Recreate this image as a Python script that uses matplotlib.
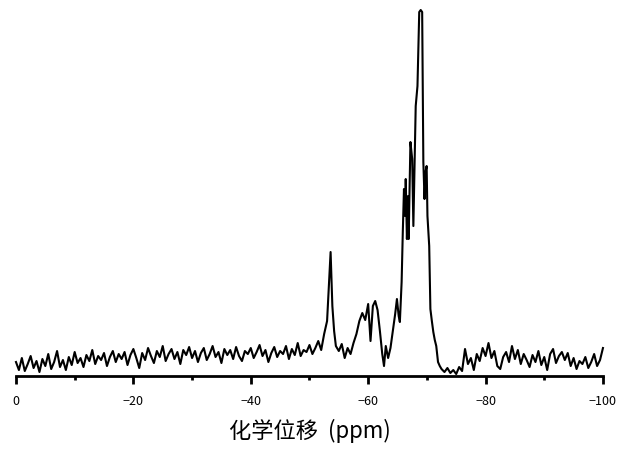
import numpy as np
import matplotlib
matplotlib.use("Agg")
import matplotlib.pyplot as plt

plt.rcParams['font.family'] = ['Noto Sans CJK SC', 'DejaVu Sans']

# baseline noise, 0 to -52.5 ppm (step 0.5)
shift_left = np.arange(0, -53.0, -0.5)
signal_left = [
    14, 6, 18, 5, 12, 20, 8, 15, 4, 17, 10, 22, 7, 14, 25, 9, 16, 6, 19, 11,
    24, 13, 18, 9, 21, 15, 26, 12, 20, 16, 23, 10, 19, 25, 14, 22, 17, 24, 11, 21,
    27, 18, 8, 23, 16, 28, 20, 13, 25, 19, 30, 15, 22, 27, 17, 24, 12, 26, 21, 29,
    18, 25, 14, 23, 28, 16, 22, 30, 19, 24, 13, 27, 21, 26, 17, 29, 20, 15, 25, 22,
    28, 18, 24, 31, 20, 26, 14, 23, 29, 19, 25, 22, 30, 17, 27, 21, 33, 20, 26, 24,
    31, 22, 28, 35, 26, 42,
]

# resonance region
shift_peaks = [
    -53.0, -53.3, -53.6, -53.9, -54.2, -54.5, -55.0, -55.5, -56.0, -56.5,
    -57.0, -57.5, -58.0, -58.5, -59.0, -59.5, -60.0, -60.4, -60.8, -61.2,
    -61.6, -62.0, -62.4, -62.7, -63.0, -63.4, -63.8, -64.2, -64.6, -64.9,
    -65.2, -65.4, -65.7, -65.9, -66.1, -66.3, -66.4, -66.6, -66.8, -66.9,
    -67.2, -67.5, -67.7, -67.9, -68.1, -68.4, -68.7, -68.95, -69.2, -69.4,
    -69.6, -69.8, -69.96, -70.1, -70.4, -70.6, -70.85, -71.1, -71.35, -71.6,
    -71.9, -72.2, -72.5,
]
signal_peaks = [
    55, 90, 124, 70, 45, 30, 25, 32, 18, 28,
    22, 33, 42, 55, 63, 56, 72, 35, 70, 75,
    66, 45, 22, 10, 30, 18, 28, 45, 62, 77,
    60, 54, 94, 144, 187, 160, 197, 137, 180, 137,
    234, 217, 150, 210, 270, 290, 364, 366, 364, 214,
    177, 205, 210, 160, 130, 67, 55, 44, 36, 30,
    14, 10, 7,
]

# baseline noise, -73 to -100 ppm
shift_right = np.arange(-73.0, -100.01, -0.5)
signal_right = [
    4, 8, 3, 6, 2, 9, 5, 27, 12, 18,
    6, 22, 15, 28, 20, 33, 18, 25, 10, 7,
    19, 24, 14, 30, 17, 26, 12, 22, 16, 9,
    21, 14, 25, 11, 19, 6, 22, 27, 13, 20,
    24, 16, 23, 10, 18, 7, 15, 12, 19, 8,
    14, 22, 10, 16, 28,
]

shift = np.concatenate([shift_left, shift_peaks, shift_right])
signal = np.concatenate([signal_left, signal_peaks, signal_right])

fig = plt.figure(figsize=(6.29, 4.56), dpi=100)
ax = fig.add_axes([0.0254, 0.1732, 0.9332, 0.8114])
ax.plot(shift, signal, color='black', lw=1.5, clip_on=False)

ax.set_xlim(0, -100)
ax.set_ylim(0, 370)
for s in ['top', 'right', 'left']:
    ax.spines[s].set_visible(False)
ax.spines['bottom'].set_linewidth(2)
ax.set_yticks([])
ax.set_xticks([0, -20, -40, -60, -80, -100])
ax.set_xticks([-10, -30, -50, -70, -90], minor=True)
ax.tick_params(axis='x', which='major', length=6, width=2, labelsize=9, pad=7)
ax.tick_params(axis='x', which='minor', length=3, width=2)
ax.set_xlabel('化学位移  (ppm)', fontsize=16, fontweight='light', labelpad=8)

fig.savefig('out.png', dpi=100)
